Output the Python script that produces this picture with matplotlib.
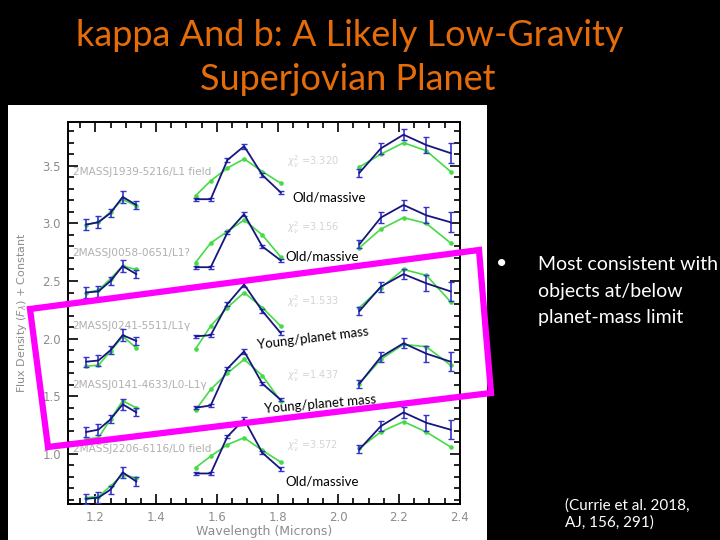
import matplotlib.pyplot as plt
from matplotlib.patches import Rectangle, Polygon
from matplotlib.ticker import MultipleLocator, FormatStrFormatter

# wavelengths of the three bands (microns)
wl_j = [1.17, 1.21, 1.25, 1.29, 1.335]
wl_h = [1.53, 1.58, 1.635, 1.69, 1.75, 1.81]
wl_k = [2.07, 2.14, 2.215, 2.29, 2.37]

# comparison objects, top to bottom
names = ['2MASSJ1939-5216/L1 field', '2MASSJ0058-0651/L1?', '2MASSJ0241-5511/L1γ',
         '2MASSJ0141-4633/L0-L1γ', '2MASSJ2206-6116/L0 field']
chi2 = ['3.320', '3.156', '1.533', '1.437', '3.572']
name_y = [3.45, 2.74, 2.11, 1.60, 1.04]
chi2_y = [3.54, 2.96, 2.32, 1.68, 1.07]

# kappa And b (blue, with error bars), offset for each comparison
kap_j = [[2.99, 3.01, 3.09, 3.23, 3.16],
         [2.40, 2.41, 2.50, 2.63, 2.56],
         [1.80, 1.81, 1.90, 2.03, 1.98],
         [1.19, 1.21, 1.30, 1.43, 1.36],
         [0.61, 0.62, 0.69, 0.84, 0.76]]
kap_h = [[3.21, 3.21, 3.55, 3.67, 3.42, 3.27],
         [2.62, 2.62, 2.92, 3.08, 2.80, 2.68],
         [2.02, 2.03, 2.30, 2.47, 2.24, 2.05],
         [1.40, 1.42, 1.74, 1.89, 1.61, 1.47],
         [0.83, 0.83, 1.15, 1.30, 1.01, 0.87]]
kap_k = [[3.44, 3.65, 3.77, 3.68, 3.61],
         [2.82, 3.05, 3.16, 3.07, 3.01],
         [2.24, 2.45, 2.56, 2.48, 2.41],
         [1.61, 1.84, 1.96, 1.87, 1.80],
         [1.04, 1.24, 1.36, 1.27, 1.21]]
err_j = [0.045, 0.05, 0.035, 0.05, 0.035]
err_h = [0.012, 0.012, 0.015, 0.02, 0.015, 0.015]
err_k = [0.035, 0.045, 0.045, 0.07, 0.085]

# comparison spectra (green)
cmp_j = [[2.99, 3.01, 3.10, 3.21, 3.15],
         [2.40, 2.42, 2.52, 2.63, 2.60],
         [1.76, 1.77, 1.89, 2.02, 1.92],
         [1.13, 1.14, 1.30, 1.46, 1.40],
         [0.62, 0.63, 0.72, 0.82, 0.79]]
cmp_h = [[3.24, 3.37, 3.48, 3.56, 3.45, 3.35],
         [2.66, 2.83, 2.93, 3.03, 2.90, 2.71],
         [1.91, 2.11, 2.27, 2.40, 2.27, 2.11],
         [1.38, 1.56, 1.70, 1.82, 1.68, 1.46],
         [0.88, 0.98, 1.08, 1.14, 1.03, 0.93]]
cmp_k = [[3.49, 3.60, 3.70, 3.63, 3.45],
         [2.79, 2.95, 3.05, 3.00, 2.83],
         [2.27, 2.44, 2.60, 2.55, 2.32],
         [1.61, 1.82, 1.95, 1.93, 1.77],
         [1.05, 1.19, 1.28, 1.19, 1.06]]

W, H = 720, 540


def px(x, y):
    # slide pixel -> figure fraction
    return x / W, 1 - y / H


fig = plt.figure(figsize=(7.2, 5.4), dpi=100, facecolor='black')

# white area of the pasted chart (behind the axes)
fig.patches.append(Rectangle(px(8, 540), 479 / W, 435 / H, transform=fig.transFigure,
                             facecolor='white', edgecolor='none', zorder=-1))

ax = fig.add_axes([68 / W, 1 - 504 / H, 392 / W, 382 / H])
ax.set_facecolor('white')

blue = '#16167e'
ebar = '#3434cc'
green = '#44dc44'

for i in range(len(names)):
    for wl, kap, err, cmp_ in [(wl_j, kap_j[i], err_j, cmp_j[i]),
                               (wl_h, kap_h[i], err_h, cmp_h[i]),
                               (wl_k, kap_k[i], err_k, cmp_k[i])]:
        ax.plot(wl, cmp_, '-', color=green, lw=1.2, marker='o', ms=2.3, zorder=2)
        ax.errorbar(wl, kap, yerr=err, fmt='-', color=blue, ecolor=ebar, lw=1.3,
                    elinewidth=1.2, capsize=2.5, capthick=1.0, zorder=3)
    ax.text(1.125, name_y[i], names[i], fontsize=7.6, color='#b0b0b0', va='center')
    ax.text(1.83, chi2_y[i], r'$\chi^2_\nu$ =' + chi2[i], fontsize=7, color='#d4d4d4', va='center')

ax.set_xlim(1.11, 2.401)
ax.set_ylim(0.565, 3.88)
ax.xaxis.set_major_locator(MultipleLocator(0.2))
ax.xaxis.set_minor_locator(MultipleLocator(0.05))
ax.yaxis.set_major_locator(MultipleLocator(0.5))
ax.yaxis.set_minor_locator(MultipleLocator(0.1))
ax.xaxis.set_major_formatter(FormatStrFormatter('%.1f'))
ax.yaxis.set_major_formatter(FormatStrFormatter('%.1f'))
ax.tick_params(which='both', direction='in', top=True, right=True, colors='black',
               labelcolor='#8c8c8c', labelsize=8.5, width=1.2)
ax.tick_params(which='major', length=7, pad=5)
ax.tick_params(which='minor', length=4)
for s in ax.spines.values():
    s.set_linewidth(1.4)
ax.set_xlabel('Wavelength (Microns)', color='#8c8c8c', fontsize=9, labelpad=1)
ax.set_ylabel(r'Flux Density ($F_\lambda$) + Constant', color='#8c8c8c', fontsize=8, labelpad=10)

# slide text
slide_font = ['Lato', 'DejaVu Sans']
fig.text(*px(350, 35), 'kappa And b: A Likely Low-Gravity', color='#e46c0a', fontsize=26,
         ha='center', va='center', family=slide_font)
fig.text(*px(348, 80), 'Superjovian Planet', color='#e46c0a', fontsize=26,
         ha='center', va='center', family=slide_font)

fig.text(*px(502, 263), '•', color='white', fontsize=14, ha='center', va='center', family=slide_font)
for k, line in enumerate(['Most consistent with', 'objects at/below', 'planet-mass limit']):
    fig.text(*px(538, 265 + 26 * k), line, color='white', fontsize=14, ha='left', va='center',
             family=slide_font)
fig.text(*px(565, 506), '(Currie et al. 2018,', color='white', fontsize=11, ha='left',
         va='center', family=slide_font)
fig.text(*px(565, 523), 'AJ, 156, 291)', color='white', fontsize=11, ha='left',
         va='center', family=slide_font)

# annotations over the chart
for xy, txt, rot in [((292, 198), 'Old/massive', 0), ((285, 257), 'Old/massive', 0),
                     ((257, 345), 'Young/planet mass', 7), ((264, 409), 'Young/planet mass', 5),
                     ((285, 482), 'Old/massive', 0)]:
    fig.text(*px(*xy), txt, color='black', fontsize=9.5, ha='left', va='center',
             rotation=rot, rotation_mode='anchor', family=slide_font, zorder=6)

# magenta box
box = [px(30, 309), px(479, 250), px(491, 393), px(48, 447)]
fig.patches.append(Polygon(box, closed=True, transform=fig.transFigure, fill=False,
                           edgecolor='#ff00ff', linewidth=4.5, zorder=5))

fig.savefig('out.png', dpi=100, facecolor='black')
